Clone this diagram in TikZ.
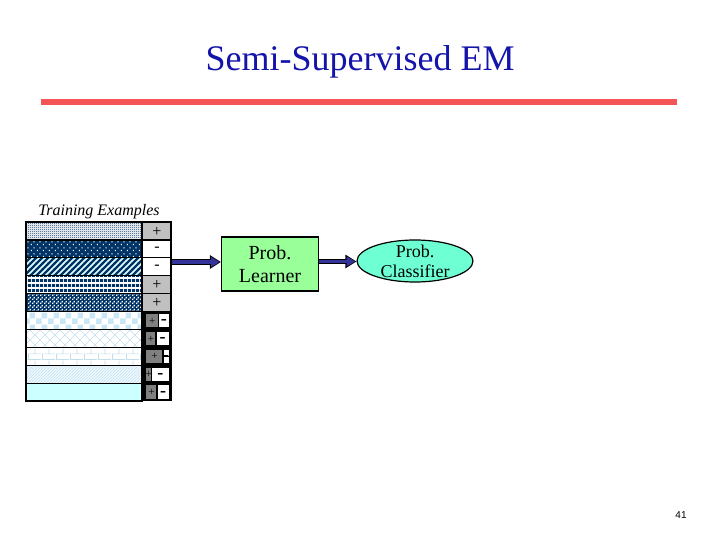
\documentclass[tikz,border=0pt]{standalone}
\usepackage{fontspec}
\setmainfont{Liberation Serif}
\newfontfamily\arialf{Liberation Sans}
\usetikzlibrary{patterns,arrows.meta,shapes.geometric}
\definecolor{exnavy}{RGB}{0,51,102}
\definecolor{arrnavy}{RGB}{51,51,153}
\definecolor{redline}{RGB}{245,85,85}
\definecolor{titleblue}{RGB}{20,20,170}
\definecolor{lgreen}{RGB}{153,255,153}
\definecolor{mint}{RGB}{110,255,210}
\definecolor{lcyan}{RGB}{204,255,255}
\definecolor{palecyan}{RGB}{225,255,255}
\definecolor{lblue}{RGB}{200,230,245}
\definecolor{lgrid}{RGB}{195,222,235}
\definecolor{cellgray}{RGB}{192,192,192}
\definecolor{dgray}{RGB}{128,128,128}

\pgfdeclarepatternformonly{myCheckFine}{\pgfqpoint{0pt}{0pt}}{\pgfqpoint{2pt}{2pt}}{\pgfqpoint{2pt}{2pt}}{%
 \pgfpathrectangle{\pgfqpoint{0pt}{0pt}}{\pgfqpoint{1pt}{1pt}}%
 \pgfpathrectangle{\pgfqpoint{1pt}{1pt}}{\pgfqpoint{1pt}{1pt}}%
 \pgfusepath{fill}}
\pgfdeclarepatternformonly{mySparseDots}{\pgfqpoint{0pt}{0pt}}{\pgfqpoint{6pt}{6pt}}{\pgfqpoint{6pt}{6pt}}{%
 \pgfpathrectangle{\pgfqpoint{1pt}{1pt}}{\pgfqpoint{1.3pt}{1.3pt}}%
 \pgfpathrectangle{\pgfqpoint{4pt}{4pt}}{\pgfqpoint{1.3pt}{1.3pt}}%
 \pgfusepath{fill}}
\pgfdeclarepatternformonly{myWideNE}{\pgfqpoint{-1pt}{-1pt}}{\pgfqpoint{7pt}{7pt}}{\pgfqpoint{6pt}{6pt}}{%
 \pgfsetlinewidth{2.3pt}%
 \pgfpathmoveto{\pgfqpoint{-1pt}{-1pt}}\pgfpathlineto{\pgfqpoint{7pt}{7pt}}\pgfusepath{stroke}}
\pgfdeclarepatternformonly{myHStripes}{\pgfqpoint{0pt}{0pt}}{\pgfqpoint{4pt}{4.5pt}}{\pgfqpoint{4pt}{4.5pt}}{%
 \pgfpathrectangle{\pgfqpoint{0pt}{0pt}}{\pgfqpoint{4pt}{3pt}}\pgfusepath{fill}}
\pgfdeclarepatternformonly{myWhiteSq}{\pgfqpoint{0pt}{0pt}}{\pgfqpoint{4pt}{4pt}}{\pgfqpoint{4pt}{4pt}}{%
 \pgfpathrectangle{\pgfqpoint{0pt}{0pt}}{\pgfqpoint{1.6pt}{1.6pt}}%
 \pgfpathrectangle{\pgfqpoint{2pt}{2pt}}{\pgfqpoint{1.6pt}{1.6pt}}%
 \pgfusepath{fill}}
\pgfdeclarepatternformonly{myBigCheck}{\pgfqpoint{0pt}{0pt}}{\pgfqpoint{12pt}{12pt}}{\pgfqpoint{12pt}{12pt}}{%
 \pgfpathrectangle{\pgfqpoint{0pt}{0pt}}{\pgfqpoint{6pt}{6pt}}%
 \pgfpathrectangle{\pgfqpoint{6pt}{6pt}}{\pgfqpoint{6pt}{6pt}}%
 \pgfusepath{fill}}
\pgfdeclarepatternformonly{myDiamondGrid}{\pgfqpoint{-1pt}{-1pt}}{\pgfqpoint{11pt}{11pt}}{\pgfqpoint{10pt}{10pt}}{%
 \pgfsetlinewidth{0.6pt}%
 \pgfpathmoveto{\pgfqpoint{0pt}{0pt}}\pgfpathlineto{\pgfqpoint{10pt}{10pt}}%
 \pgfpathmoveto{\pgfqpoint{0pt}{10pt}}\pgfpathlineto{\pgfqpoint{10pt}{0pt}}%
 \pgfusepath{stroke}}
\pgfdeclarepatternformonly{myBricks}{\pgfqpoint{0pt}{0pt}}{\pgfqpoint{14pt}{12pt}}{\pgfqpoint{14pt}{12pt}}{%
 \pgfsetlinewidth{0.7pt}%
 \pgfpathmoveto{\pgfqpoint{0pt}{0.5pt}}\pgfpathlineto{\pgfqpoint{14pt}{0.5pt}}%
 \pgfpathmoveto{\pgfqpoint{0pt}{6.5pt}}\pgfpathlineto{\pgfqpoint{14pt}{6.5pt}}%
 \pgfpathmoveto{\pgfqpoint{0.5pt}{0.5pt}}\pgfpathlineto{\pgfqpoint{0.5pt}{6.5pt}}%
 \pgfpathmoveto{\pgfqpoint{7.5pt}{6.5pt}}\pgfpathlineto{\pgfqpoint{7.5pt}{12pt}}%
 \pgfusepath{stroke}}
\pgfdeclarepatternformonly{myThinNE}{\pgfqpoint{-1pt}{-1pt}}{\pgfqpoint{4pt}{4pt}}{\pgfqpoint{3pt}{3pt}}{%
 \pgfsetlinewidth{1pt}%
 \pgfpathmoveto{\pgfqpoint{-1pt}{-1pt}}\pgfpathlineto{\pgfqpoint{4pt}{4pt}}\pgfusepath{stroke}}

\tikzset{
  rowline/.style={draw=black, line width=1.2pt},
  signtop/.style={font=\fontsize{16}{18}\selectfont, inner sep=0pt},
  signplus/.style={font=\fontsize{11}{12}\selectfont, inner sep=0pt},
  signminus/.style={font=\fontsize{18}{20}\selectfont\bfseries, inner sep=0pt},
  learnerbox/.style={draw=black, line width=1.2pt, fill=lgreen, minimum width=97pt, minimum height=54pt, align=center, font=\fontsize{20}{23.5}\selectfont, inner sep=0pt},
  clsellipse/.style={ellipse, draw=black, line width=1.2pt, fill=mint, minimum width=116pt, minimum height=42pt, inner sep=0pt},
  clstextstyle/.style={align=center, font=\fontsize{18}{20}\selectfont, inner sep=0pt},
  arrowouter/.style={draw=black, line width=5.5pt, -{Triangle[length=11pt,width=13pt]}},
  arrowinner/.style={draw=arrnavy, line width=3.3pt, shorten >=1.3pt, -{Triangle[length=8.5pt,width=9.5pt]}},
}

\newcommand{\exrow}[4]{% y, bg, pattern, pattern colour
  \fill[#2] (26,#1) rectangle (142,#1+17.9);
  \fill[pattern=#3, pattern color=#4] (26,#1) rectangle (142,#1+17.9);
  \draw[rowline] (26,#1) rectangle (142,#1+17.9);}
\newcommand{\topcell}[3]{% y, fill, sign
  \draw[rowline, fill=#2] (142,#1) rectangle (171,#1+17.9);
  \node[signtop] at (157,#1+9.5) {#3};}
\newcommand{\lowcell}[2]{% y, split x
  \fill[black] (142,#1) rectangle (171.5,#1+17.9);
  \fill[dgray] (146,#1+2.3) rectangle (#2-0.7,#1+15.6);
  \fill[white] (#2+0.7,#1+2.3) rectangle (169,#1+15.6);
  \node[signplus] at ({(146+#2)/2},#1+9.5) {+};
  \node[signminus] at ({(#2+169)/2},#1+10.5) {-};}

\begin{document}
\begin{tikzpicture}[x=1pt,y=-1pt]
\useasboundingbox (0,0) rectangle (720,540);
\fill[white] (0,0) rectangle (720,540);

% title
\node[anchor=base, inner sep=0pt, text=titleblue, font=\fontsize{36}{40}\selectfont] (title) at (360,71) {Semi-Supervised EM};
\fill[redline] (41,99.5) rectangle (677,105.5);

% training examples
\node[anchor=base, inner sep=0pt, font=\fontsize{16}{18}\selectfont\itshape] (trlabel) at (99,215) {Training Examples};
\node[minimum width=145pt, minimum height=179pt, inner sep=0pt] (ex) at (98.5,311.5) {};

\exrow{222}{white}{myCheckFine}{exnavy}
\exrow{239.9}{exnavy}{mySparseDots}{white}
\exrow{257.8}{palecyan}{myWideNE}{exnavy}
\exrow{275.7}{white}{myHStripes}{exnavy}
\exrow{293.6}{exnavy}{myWhiteSq}{white}
\exrow{311.5}{white}{myBigCheck}{lblue}
\exrow{329.4}{white}{myDiamondGrid}{lgrid}
\exrow{347.3}{white}{myBricks}{lgrid}
\exrow{365.2}{white}{myThinNE}{lblue}
\exrow{383.1}{lcyan}{myBigCheck}{lcyan}

\topcell{222}{cellgray}{+}
\topcell{239.9}{white}{-}
\topcell{257.8}{white}{-}
\topcell{275.7}{cellgray}{+}
\topcell{293.6}{cellgray}{+}

\lowcell{311.5}{158.5}
\lowcell{329.4}{156}
\lowcell{347.3}{163}
\draw[black, line width=1pt] (163,356.3) -- (169,356.3);
\lowcell{365.2}{151.5}
\lowcell{383.1}{157}

% learner and classifier
\node[learnerbox] (learner) at (270,264) {Prob.\\Learner};
\node[clsellipse] (cls) at (415,261) {};
\node[clstextstyle] (clstext) at (415,261) {Prob.\\Classifier};

\coordinate (a1) at (172,262);
\coordinate (a2) at (319,261.5);
\draw[arrowouter] (a1) -- (a1 -| learner.west);
\draw[arrowinner] (a1) -- (a1 -| learner.west);
\draw[arrowouter] (a2) -- (a2 -| cls.west);
\draw[arrowinner] (a2) -- (a2 -| cls.west);

% page number
\node[anchor=base, inner sep=0pt, font=\arialf\fontsize{10}{12}\selectfont] (pnum) at (681,518.5) {41};
\end{tikzpicture}
\end{document}
